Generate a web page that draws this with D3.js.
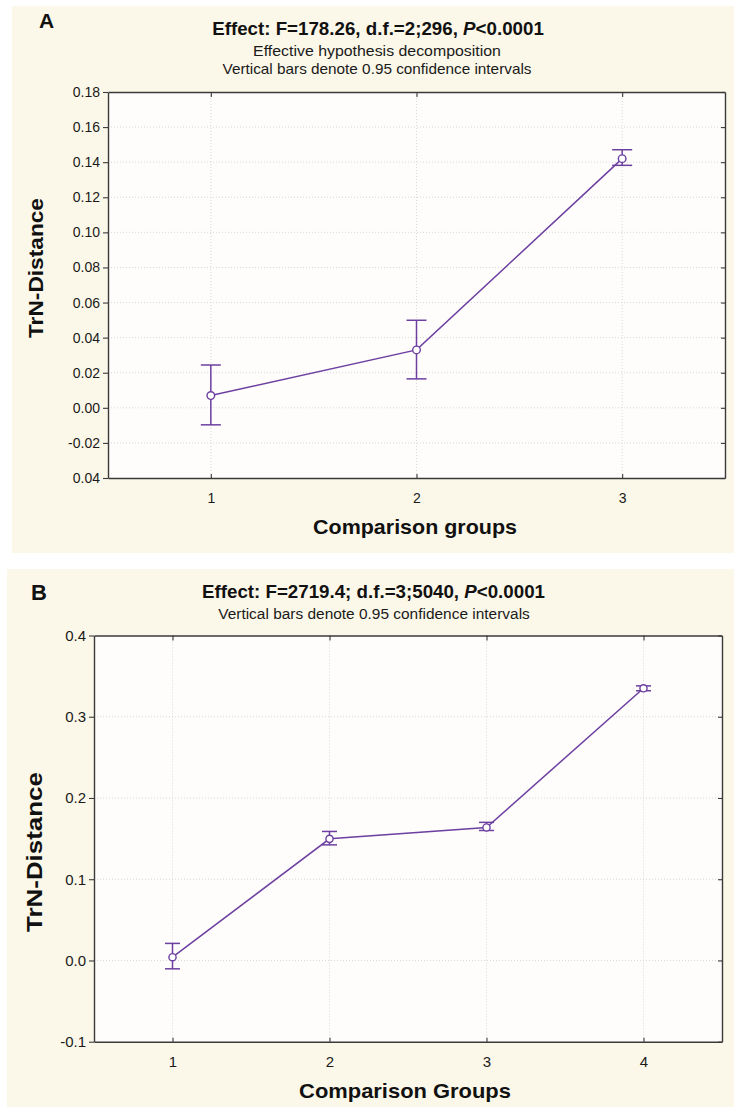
<!DOCTYPE html>
<html>
<head>
<meta charset="utf-8">
<script src="https://cdn.jsdelivr.net/npm/d3@7"></script>
<style>
  html, body { margin: 0; padding: 0; background: #ffffff; }
  svg { display: block; font-family: "Liberation Sans", Arial, Helvetica, sans-serif; }
</style>
</head>
<body>
<svg id="chart" width="734" height="1110"></svg>
<script>
// ---------- Panel A data ----------
const groupsA = [1, 2, 3];
const meanA = [0.007, 0.033, 0.142];
const lowerA = [-0.0097, 0.0165, 0.1382];
const upperA = [0.0244, 0.0499, 0.1471];
const yTicksA = [-0.04, -0.02, 0.00, 0.02, 0.04, 0.06, 0.08, 0.10, 0.12, 0.14, 0.16, 0.18];
const yTickLabelsA = ["0.04", "-0.02", "0.00", "0.02", "0.04", "0.06", "0.08", "0.10", "0.12", "0.14", "0.16", "0.18"];
const xTickLabelsA = ["1", "2", "3"];
const titleA = "Effect: F=178.26, d.f.=2;296, ";
const subtitlesA = ["Effective hypothesis decomposition", "Vertical bars denote 0.95 confidence intervals"];
const xTitleA = "Comparison groups";

// ---------- Panel B data ----------
const groupsB = [1, 2, 3, 4];
const meanB = [0.004, 0.1497, 0.1637, 0.335];
const lowerB = [-0.0103, 0.1423, 0.1600, 0.3320];
const upperB = [0.0210, 0.1588, 0.1700, 0.3380];
const yTicksB = [-0.1, 0.0, 0.1, 0.2, 0.3, 0.4];
const yTickLabelsB = ["-0.1", "0.0", "0.1", "0.2", "0.3", "0.4"];
const xTickLabelsB = ["1", "2", "3", "4"];
const titleB = "Effect: F=2719.4; d.f.=3;5040, ";
const subtitlesB = ["Vertical bars denote 0.95 confidence intervals"];
const xTitleB = "Comparison Groups";

const yTitle = "TrN-Distance";

const svg = d3.select("#chart");
const PURPLE = "#6c3fa0";
const CREAM = "#fcf8e9";
const AXIS = "#3a3a3a";

// fit a text element to a target width by horizontal scaling around its anchor point
function fitText(sel, cx, cy, len) {
  const w = sel.node().getComputedTextLength();
  const k = len / w;
  sel.attr("x", 0).attr("y", 0)
    .attr("transform", `translate(${cx},${cy}) scale(${k},1)`);
}

function drawPanel(cfg) {
  const g = svg.append("g");
  g.append("rect").attr("x", cfg.cream.x).attr("y", cfg.cream.y)
    .attr("width", cfg.cream.w).attr("height", cfg.cream.h).attr("fill", CREAM);

  const x = d3.scaleLinear().domain(cfg.xDomain).range([cfg.plot.l, cfg.plot.r]);
  const y = d3.scaleLinear().domain(cfg.yDomain).range([cfg.plot.b, cfg.plot.t]);

  g.append("rect").attr("x", cfg.plot.l).attr("y", cfg.plot.t)
    .attr("width", cfg.plot.r - cfg.plot.l).attr("height", cfg.plot.b - cfg.plot.t)
    .attr("fill", "#fefdfc");

  const grid = g.append("g").attr("stroke", "#cfcfcf").attr("stroke-width", 0.8)
    .attr("stroke-dasharray", "1,2");
  grid.selectAll("line.h").data(cfg.yTicks.slice(1, -1)).join("line")
    .attr("x1", cfg.plot.l).attr("x2", cfg.plot.r)
    .attr("y1", d => y(d)).attr("y2", d => y(d));
  grid.selectAll("line.v").data(cfg.groups).join("line")
    .attr("y1", cfg.plot.t).attr("y2", cfg.plot.b)
    .attr("x1", d => x(d)).attr("x2", d => x(d));

  const left = g.append("g").attr("transform", `translate(${cfg.plot.l},0)`)
    .call(d3.axisLeft(y).tickValues(cfg.yTicks).tickSize(5).tickPadding(3).tickSizeOuter(0)
      .tickFormat((d, i) => cfg.yLabels[i]));
  const bottom = g.append("g").attr("transform", `translate(0,${cfg.plot.b})`)
    .call(d3.axisBottom(x).tickValues(cfg.groups).tickSize(-4).tickPadding(15).tickSizeOuter(0)
      .tickFormat((d, i) => cfg.xLabels[i]));
  const top = g.append("g").attr("transform", `translate(0,${cfg.plot.t})`)
    .call(d3.axisTop(x).tickValues(cfg.groups).tickSize(-5).tickSizeOuter(0).tickFormat(""));
  const right = g.append("g").attr("transform", `translate(${cfg.plot.r},0)`)
    .call(d3.axisRight(y).tickValues(cfg.yTicks).tickSize(-4).tickSizeOuter(0).tickFormat(""));
  [left, bottom, top, right].forEach(a => {
    a.select(".domain").attr("stroke", AXIS).attr("stroke-width", 1.4);
    a.selectAll(".tick line").attr("stroke", AXIS).attr("stroke-width", 1.1);
    a.selectAll("text").attr("fill", "#1a1a1a").attr("font-size", cfg.tickFont)
      .attr("font-family", "'Liberation Sans', Arial, sans-serif");
  });

  const eb = g.append("g").attr("stroke", PURPLE).attr("stroke-width", 1.5).attr("fill", "none");
  cfg.groups.forEach((gv, i) => {
    const cx = x(gv);
    eb.append("line").attr("x1", cx).attr("x2", cx).attr("y1", y(cfg.lower[i])).attr("y2", y(cfg.upper[i]));
    eb.append("line").attr("x1", cx - cfg.cap).attr("x2", cx + cfg.cap).attr("y1", y(cfg.lower[i])).attr("y2", y(cfg.lower[i]));
    eb.append("line").attr("x1", cx - cfg.cap).attr("x2", cx + cfg.cap).attr("y1", y(cfg.upper[i])).attr("y2", y(cfg.upper[i]));
  });

  const line = d3.line().x((d, i) => x(cfg.groups[i])).y(d => y(d));
  g.append("path").datum(cfg.mean).attr("d", line).attr("fill", "none")
    .attr("stroke", PURPLE).attr("stroke-width", 1.5);

  g.selectAll("circle.m").data(cfg.mean).join("circle")
    .attr("cx", (d, i) => x(cfg.groups[i])).attr("cy", d => y(d)).attr("r", cfg.r)
    .attr("fill", "#ffffff").attr("stroke", PURPLE).attr("stroke-width", 1.4);

  g.append("text").attr("x", cfg.letter.x).attr("y", cfg.letter.y)
    .attr("font-size", cfg.letter.size).attr("font-weight", "bold").attr("fill", "#111")
    .text(cfg.letter.t);

  // title (with italic P) scaled to the reference width
  const t = g.append("text").attr("text-anchor", "middle").attr("font-size", 19)
    .attr("font-weight", "bold").attr("fill", "#111");
  t.append("tspan").text(cfg.title.t);
  t.append("tspan").attr("font-style", "italic").text("P");
  t.append("tspan").text("<0.0001");
  fitText(t, cfg.title.x, cfg.title.y, cfg.title.len);

  cfg.subs.forEach(s => {
    const st = g.append("text").attr("text-anchor", "middle")
      .attr("font-size", 14.5).attr("fill", "#1a1a1a").text(s.t);
    fitText(st, s.x, s.y, s.len);
  });

  const xt = g.append("text").attr("text-anchor", "middle")
    .attr("font-size", 20).attr("font-weight", "bold").attr("fill", "#111").text(cfg.xTitle.t);
  fitText(xt, cfg.xTitle.x, cfg.xTitle.y, cfg.xTitle.len);

  const yt = g.append("text").attr("text-anchor", "middle").attr("font-size", cfg.yTitle.size)
    .attr("font-weight", "bold").attr("fill", "#111").text(yTitle);
  const yw = yt.node().getComputedTextLength();
  yt.attr("transform", `translate(${cfg.yTitle.x},${cfg.yTitle.y}) rotate(-90) scale(${cfg.yTitle.len / yw},1)`);
}

drawPanel({
  cream: { x: 12, y: 6, w: 722, h: 547 },
  plot: { l: 108, t: 92, r: 725, b: 478 },
  xDomain: [0.5, 3.5], yDomain: [-0.04, 0.18],
  groups: groupsA, mean: meanA, lower: lowerA, upper: upperA,
  yTicks: yTicksA, yLabels: yTickLabelsA, xLabels: xTickLabelsA,
  tickFont: 14, cap: 10, r: 3.8,
  letter: { x: 39, y: 28, size: 21, t: "A" },
  title: { x: 378, y: 35, len: 332, t: titleA },
  subs: [{ x: 377, y: 56, len: 248, t: subtitlesA[0] }, { x: 377, y: 74, len: 309, t: subtitlesA[1] }],
  xTitle: { x: 415, y: 534, len: 204, t: xTitleA },
  yTitle: { x: 43, y: 268, len: 140, size: 21 }
});

drawPanel({
  cream: { x: 7, y: 569, w: 727, h: 538 },
  plot: { l: 94, t: 635.5, r: 722, b: 1041.7 },
  xDomain: [0.5, 4.5], yDomain: [-0.1, 0.4],
  groups: groupsB, mean: meanB, lower: lowerB, upper: upperB,
  yTicks: yTicksB, yLabels: yTickLabelsB, xLabels: xTickLabelsB,
  tickFont: 15, cap: 7.5, r: 3.6,
  letter: { x: 31, y: 600, size: 22, t: "B" },
  title: { x: 373.5, y: 598, len: 343, t: titleB },
  subs: [{ x: 374, y: 618.5, len: 312, t: subtitlesB[0] }],
  xTitle: { x: 405, y: 1098, len: 212, t: xTitleB },
  yTitle: { x: 42, y: 852, len: 160, size: 22 }
});
</script>
</body>
</html>
